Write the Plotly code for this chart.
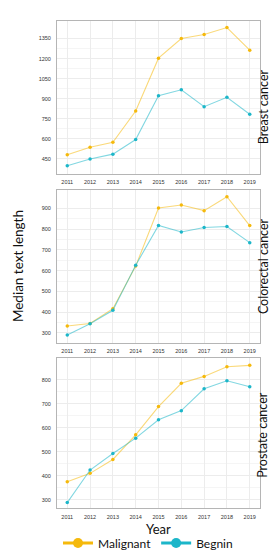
import plotly.graph_objects as go

years = [2011, 2012, 2013, 2014, 2015, 2016, 2017, 2018, 2019]
panels = ["Breast cancer", "Colorectal cancer", "Prostate cancer"]

breast_malignant = [480, 537, 574, 808, 1203, 1350, 1380, 1432, 1263]
breast_begnin = [398, 448, 485, 594, 922, 967, 840, 910, 783]
colorectal_malignant = [334, 346, 417, 622, 902, 916, 889, 956, 817]
colorectal_begnin = [290, 345, 409, 626, 818, 786, 808, 813, 735]
prostate_malignant = [375, 410, 468, 571, 689, 786, 815, 855, 861]
prostate_begnin = [288, 424, 493, 557, 634, 672, 763, 797, 772]

y_ticks = [
    [450, 600, 750, 900, 1050, 1200, 1350],
    [300, 400, 500, 600, 700, 800, 900],
    [300, 400, 500, 600, 700, 800],
]
y_ranges = [[338, 1482], [254, 990], [264, 890]]

malignant = [breast_malignant, colorectal_malignant, prostate_malignant]
begnin = [breast_begnin, colorectal_begnin, prostate_begnin]

COL_M = "#F5B90C"
COL_B = "#1CB6C9"
LINE_M = "rgba(245,185,12,0.55)"
LINE_B = "rgba(28,182,201,0.55)"
W, H = 278, 550
panel_px = [(13, 167), (183, 337), (353, 504)]
x_dom = [49 / W, 252 / W]

fig = go.Figure()
layout = dict(
    width=W, height=H,
    margin=dict(l=0, r=0, t=0, b=0),
    paper_bgcolor="white", plot_bgcolor="white",
    font=dict(family="Lato, Open Sans, sans-serif", color="#222"),
    showlegend=True,
)

for i in range(3):
    n = "" if i == 0 else str(i + 1)
    xa, ya = "x" + n, "y" + n
    for vals, name, col, lcol in [(malignant[i], "Malignant", COL_M, LINE_M),
                                  (begnin[i], "Begnin", COL_B, LINE_B)]:
        fig.add_trace(go.Scatter(
            x=years, y=vals, mode="lines+markers", name=name,
            line=dict(color=lcol, width=1.1),
            marker=dict(color=col, size=3.5),
            xaxis=xa, yaxis=ya, showlegend=False, legendgroup=name,
        ))
    top, bot = panel_px[i]
    dom = [1 - bot / H, 1 - top / H]
    axis_common = dict(
        showline=True, mirror=True, linecolor="#b5b5b5", linewidth=1,
        showgrid=True, gridcolor="#ececec", gridwidth=0.6,
        ticks="", zeroline=False, automargin=False,
        tickfont=dict(size=5.5, color="#333", family="Liberation Sans, Arial, sans-serif"),
    )
    layout["xaxis" + n] = dict(
        axis_common, domain=x_dom, anchor=ya, range=[2010.55, 2019.45],
        tickvals=years, ticktext=[str(y) for y in years], ticklabelstandoff=3,
    )
    layout["yaxis" + n] = dict(
        axis_common, domain=dom, anchor=xa, range=y_ranges[i],
        tickvals=y_ticks[i], ticklabelstandoff=4,
        minor=dict(showgrid=True, gridcolor="#f5f5f5", gridwidth=0.5,
                   tickvals=[(a + b) / 2 for a, b in zip(y_ticks[i][:-1], y_ticks[i][1:])]),
    )

# legend entries (thicker line + big marker, as in the reference key)
for name, col in [("Malignant", COL_M), ("Begnin", COL_B)]:
    fig.add_trace(go.Scatter(
        x=[None], y=[None], mode="lines+markers", name=name,
        line=dict(color=col, width=3), marker=dict(color=col, size=10),
        legendgroup=name, showlegend=True,
    ))

label_centers = [100, 260, 430]
annotations = []
for i, name in enumerate(panels):
    annotations.append(dict(
        text=name, x=255 / W, y=1 - label_centers[i] / H, xref="paper", yref="paper",
        textangle=-90, showarrow=False, xanchor="center", yanchor="middle",
        font=dict(size=12.5, color="#111"),
    ))
annotations.append(dict(
    text="Median text length", x=10 / W, y=1 - 260 / H, xref="paper", yref="paper",
    textangle=-90, showarrow=False, xanchor="center", yanchor="middle",
    font=dict(size=13.5, color="#111"),
))
annotations.append(dict(
    text="Year", x=150 / W, y=1 - 525 / H, xref="paper", yref="paper",
    showarrow=False, xanchor="center", yanchor="middle",
    font=dict(size=13, color="#111"),
))
layout["annotations"] = annotations
layout["legend"] = dict(
    orientation="h", x=140 / W, y=1 - 539 / H, xanchor="center", yanchor="middle",
    font=dict(size=12, color="#111"), tracegroupgap=0,
    bgcolor="rgba(0,0,0,0)",
)
fig.update_layout(**layout)
fig.write_html("out.html")
